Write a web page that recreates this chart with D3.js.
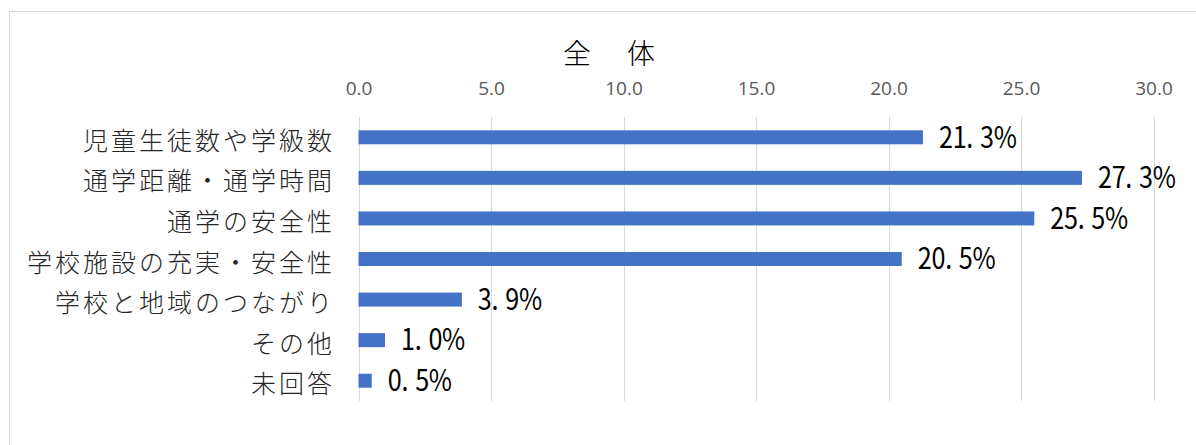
<!DOCTYPE html>
<html><head><meta charset="utf-8">
<script src="https://cdn.jsdelivr.net/npm/d3@7"></script>
<style>html,body{margin:0;padding:0;background:#fff;}svg{display:block;}</style>
</head><body>
<svg id="chart" width="1196" height="445"></svg>
<script>
const title = "全　体";
const categories = ["児童生徒数や学級数","通学距離・通学時間","通学の安全性","学校施設の充実・安全性","学校と地域のつながり","その他","未回答"];
const values = [21.3, 27.3, 25.5, 20.5, 3.9, 1.0, 0.5];
const tickValues = [0, 5, 10, 15, 20, 25, 30];

const svg = d3.select("#chart");
svg.append("rect").attr("x", 9.5).attr("y", 11.5).attr("width", 1200).attr("height", 460)
  .attr("fill", "#fff").attr("stroke", "#d9d9d9").attr("stroke-width", 1);

const x = d3.scaleLinear().domain([0, 30]).range([358.5, 1153.5]);
const y = d3.scaleBand().domain(categories).range([117, 401]).paddingInner(0.655).paddingOuter(0.3275);

svg.append("g").selectAll("line").data(tickValues).join("line")
  .attr("x1", d => Math.round(x(d)) + 0.5).attr("x2", d => Math.round(x(d)) + 0.5)
  .attr("y1", 117).attr("y2", 401)
  .attr("stroke", "#d9d9d9").attr("stroke-width", 1);

const axis = d3.axisTop(x).tickValues(tickValues).tickFormat(d3.format(".1f")).tickSize(0).tickPadding(0);
const ag = svg.append("g").attr("transform", "translate(0,95)").call(axis);
ag.select(".domain").remove();
ag.selectAll("text").attr("fill", "#595959").attr("font-size", "19px")
  .attr("font-family", "'Open Sans','Noto Sans',sans-serif").attr("dy", 0);

svg.append("text").attr("x", 563).attr("y", 64).attr("font-size", "28px")
  .attr("letter-spacing", "4px").attr("font-weight", 300)
  .attr("font-family", "'Noto Sans CJK JP',sans-serif").attr("fill", "#000").text(title);

svg.append("g").selectAll("rect").data(values).join("rect")
  .attr("x", x(0)).attr("y", (d, i) => y(categories[i]))
  .attr("width", d => x(d) - x(0)).attr("height", y.bandwidth())
  .attr("fill", "#4472C4");

svg.append("g").selectAll("text").data(categories).join("text")
  .attr("x", 335).attr("y", d => y(d) + y.bandwidth() / 2 + 1.5)
  .attr("text-anchor", "end").attr("dominant-baseline", "central")
  .attr("font-size", "25px").attr("letter-spacing", "3px").attr("font-weight", 300)
  .attr("font-family", "'Noto Sans CJK JP',sans-serif").attr("fill", "#262626")
  .text(d => d);

const sx = 0.84, cell = 13.7;
svg.append("g").selectAll("text").data(values).join("text")
  .attr("transform", (d, i) => `translate(${x(d) + 16},${y(categories[i]) + y.bandwidth() / 2 + 10.3}) scale(${sx},1)`)
  .attr("x", d => (d.toFixed(1) + "%").split("").map((c, k) => (k * cell / sx).toFixed(2)).join(" "))
  .attr("font-size", "30px").attr("font-weight", 400)
  .attr("font-family", "'Noto Sans CJK JP',sans-serif").attr("fill", "#000")
  .text(d => d.toFixed(1) + "%");
</script>
</body></html>
